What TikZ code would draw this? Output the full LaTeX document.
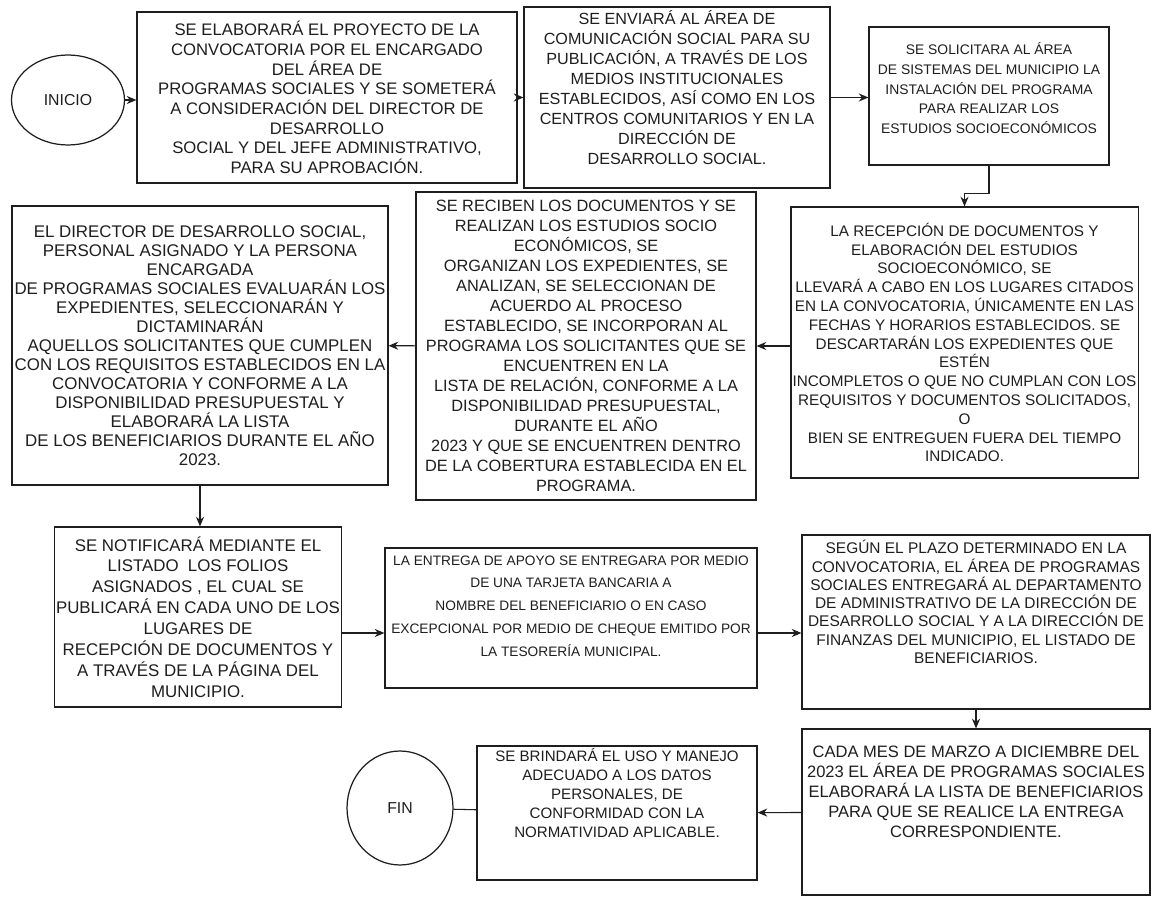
\documentclass[tikz,border=0pt]{standalone}
\usepackage{fontspec}
\setmainfont{Liberation Sans}
\usepackage{tikz}
\usetikzlibrary{shapes.geometric, arrows.meta, positioning, calc}
\definecolor{tinta}{HTML}{1E1E1E}

\tikzset{
  caja/.style={draw=tinta, line width=0.7pt, inner sep=1pt, align=center, text=tinta},
  terminal/.style={draw=tinta, ellipse, line width=0.7pt, inner sep=0pt, text=tinta, font=\fontsize{9}{11}\selectfont},
  flecha/.style={-{Stealth[length=5.5pt,width=4.6pt]}, line width=0.6pt, tinta},
  linea/.style={line width=0.6pt, tinta}
}

\begin{document}
\begin{tikzpicture}[x=0.02cm, y=-0.02cm]
  \fill[white] (0,0) rectangle (1158,898);
  \useasboundingbox (0,0) rectangle (1158,898);

  % primera fila
  \node[terminal, minimum width=2.26cm, minimum height=1.8cm] (inicio) at (68,100) {INICIO};
  \node[caja, minimum width=7.6cm, minimum height=3.42cm, font=\fontsize{9.5}{11.2}\selectfont] (b1) at (327,97.5)
    {SE ELABORARÁ EL PROYECTO DE LA\\CONVOCATORIA POR EL ENCARGADO\\DEL ÁREA DE\\PROGRAMAS SOCIALES Y SE SOMETERÁ\\A CONSIDERACIÓN DEL DIRECTOR DE\\DESARROLLO\\SOCIAL Y DEL JEFE ADMINISTRATIVO,\\PARA SU APROBACIÓN.};
  \node[caja, minimum width=6.12cm, minimum height=3.62cm, text depth=0.4cm, font=\fontsize{9.2}{11.4}\selectfont] (b2) at (677,97.5)
    {SE ENVIARÁ AL ÁREA DE\\COMUNICACIÓN SOCIAL PARA SU\\PUBLICACIÓN, A TRAVÉS DE LOS\\MEDIOS INSTITUCIONALES\\ESTABLECIDOS, ASÍ COMO EN LOS\\CENTROS COMUNITARIOS Y EN LA\\DIRECCIÓN DE\\DESARROLLO SOCIAL.};
  \node[caja, minimum width=4.8cm, minimum height=2.76cm, text depth=0.32cm, font=\fontsize{7.9}{11.2}\selectfont] (b3) at (989,96)
    {SE SOLICITARA AL ÁREA\\DE SISTEMAS DEL MUNICIPIO LA\\INSTALACIÓN DEL PROGRAMA\\PARA REALIZAR LOS\\ESTUDIOS SOCIOECONÓMICOS};

  % segunda fila
  \node[caja, minimum width=6.94cm, minimum height=5.42cm, font=\fontsize{8.7}{10.7}\selectfont] (b4) at (964.5,342.5)
    {LA RECEPCIÓN DE DOCUMENTOS Y\\ELABORACIÓN DEL ESTUDIOS\\SOCIOECONÓMICO, SE\\LLEVARÁ A CABO EN LOS LUGARES CITADOS\\EN LA CONVOCATORIA, ÚNICAMENTE EN LAS\\FECHAS Y HORARIOS ESTABLECIDOS. SE\\DESCARTARÁN LOS EXPEDIENTES QUE\\ESTÉN\\INCOMPLETOS O QUE NO CUMPLAN CON LOS\\REQUISITOS Y DOCUMENTOS SOLICITADOS,\\O\\BIEN SE ENTREGUEN FUERA DEL TIEMPO\\INDICADO.};
  \node[caja, minimum width=6.8cm, minimum height=6.16cm, font=\fontsize{9.3}{11.4}\selectfont] (b6) at (586,346)
    {SE RECIBEN LOS DOCUMENTOS Y SE\\REALIZAN LOS ESTUDIOS SOCIO\\ECONÓMICOS, SE\\ORGANIZAN LOS EXPEDIENTES, SE\\ANALIZAN, SE SELECCIONAN DE\\ACUERDO AL PROCESO\\ESTABLECIDO, SE INCORPORAN AL\\PROGRAMA LOS SOLICITANTES QUE SE\\ENCUENTREN EN LA\\LISTA DE RELACIÓN, CONFORME A LA\\DISPONIBILIDAD PRESUPUESTAL,\\DURANTE EL AÑO\\2023 Y QUE SE ENCUENTREN DENTRO\\DE LA COBERTURA ESTABLECIDA EN EL\\PROGRAMA.};
  \node[caja, minimum width=7.52cm, minimum height=5.58cm, font=\fontsize{9.6}{10.8}\selectfont] (b5) at (200,345.5)
    {EL DIRECTOR DE DESARROLLO SOCIAL,\\PERSONAL ASIGNADO Y LA PERSONA\\ENCARGADA\\DE PROGRAMAS SOCIALES EVALUARÁN LOS\\EXPEDIENTES, SELECCIONARÁN Y\\DICTAMINARÁN\\AQUELLOS SOLICITANTES QUE CUMPLEN\\CON LOS REQUISITOS ESTABLECIDOS EN LA\\CONVOCATORIA Y CONFORME A LA\\DISPONIBILIDAD PRESUPUESTAL Y\\ELABORARÁ LA LISTA\\DE LOS BENEFICIARIOS DURANTE EL AÑO\\2023.};

  % tercera fila
  \node[caja, minimum width=5.68cm, minimum height=3.6cm, font=\fontsize{9.6}{11.9}\selectfont] (b7) at (198,617)
    {SE NOTIFICARÁ MEDIANTE EL\\LISTADO~ LOS FOLIOS\\ASIGNADOS , EL CUAL SE\\PUBLICARÁ EN CADA UNO DE LOS\\LUGARES DE\\RECEPCIÓN DE DOCUMENTOS Y\\A TRAVÉS DE LA PÁGINA DEL\\MUNICIPIO.};
  \node[caja, minimum width=7.44cm, minimum height=2.8cm, text depth=0.48cm, font=\fontsize{7.8}{13}\selectfont] (b8) at (571,618)
    {LA ENTREGA DE APOYO SE ENTREGARA POR MEDIO\\DE UNA TARJETA BANCARIA A\\NOMBRE DEL BENEFICIARIO O EN CASO\\EXCEPCIONAL POR MEDIO DE CHEQUE EMITIDO POR\\LA TESORERÍA MUNICIPAL.};
  \node[caja, minimum width=6.96cm, minimum height=3.48cm, text depth=0.8cm, font=\fontsize{8.8}{10.4}\selectfont] (b9) at (976,622)
    {SEGÚN EL PLAZO DETERMINADO EN LA\\CONVOCATORIA, EL ÁREA DE PROGRAMAS\\SOCIALES ENTREGARÁ AL DEPARTAMENTO\\DE ADMINISTRATIVO DE LA DIRECCIÓN DE\\DESARROLLO SOCIAL Y A LA DIRECCIÓN DE\\FINANZAS DEL MUNICIPIO, EL LISTADO DE\\BENEFICIARIOS.};

  % cuarta fila
  \node[caja, minimum width=6.96cm, minimum height=3.32cm, text depth=0.8cm, font=\fontsize{9.4}{11.4}\selectfont] (b10) at (976,812)
    {CADA MES DE MARZO A DICIEMBRE DEL\\2023 EL ÁREA DE PROGRAMAS SOCIALES\\ELABORARÁ LA LISTA DE BENEFICIARIOS\\PARA QUE SE REALICE LA ENTREGA\\CORRESPONDIENTE.};
  \node[caja, minimum width=5.6cm, minimum height=2.68cm, text depth=0.8cm, font=\fontsize{8.6}{10.8}\selectfont] (b11) at (617,813)
    {SE BRINDARÁ EL USO Y MANEJO\\ADECUADO A LOS DATOS\\PERSONALES, DE\\CONFORMIDAD CON LA\\NORMATIVIDAD APLICABLE.};
  \node[terminal, minimum width=2.12cm, minimum height=2.28cm] (fin) at (400,808) {FIN};

  % conectores
  \draw[flecha] (inicio) -- (inicio -| b1.west);
  \draw[flecha] (b1) -- (b2);
  \draw[flecha] (b2.east) -- (b2.east -| b3.west);
  \draw[flecha] (b3.south) -- ++(0,28) -| (b4.north);
  \draw[flecha] (b6.east -| b4.west) -- (b6.east);
  \draw[flecha] (b6) -- (b5);
  \draw[flecha] (b5.south) -- (b5.south |- b7.north);
  \draw[flecha] ([yshift=-0.32cm]b7.east) -- ([yshift=-0.32cm]b7.east -| b8.west);
  \draw[flecha] ([yshift=-0.3cm]b8.east) -- ([yshift=-0.3cm]b8.east -| b9.west);
  \draw[flecha] (b9) -- (b10);
  \draw[flecha] (b10) -- (b11);
  \draw[linea] (b11) -- (fin);
\end{tikzpicture}
\end{document}
